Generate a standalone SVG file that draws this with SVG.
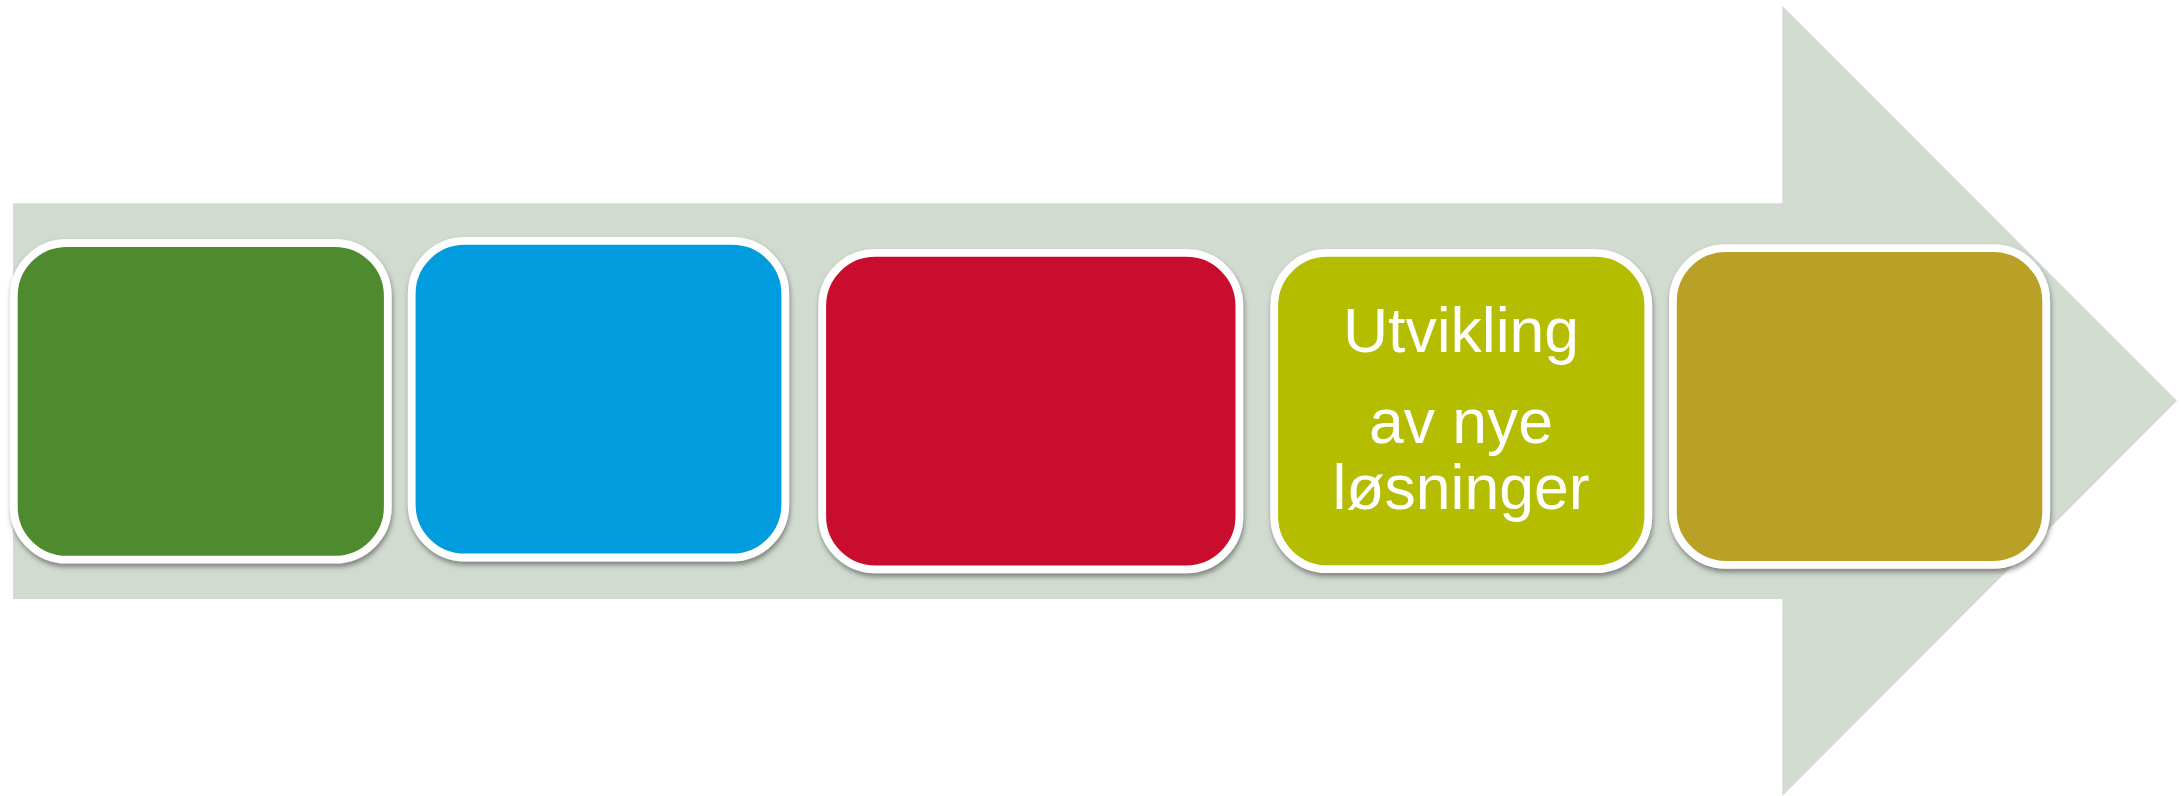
<svg xmlns="http://www.w3.org/2000/svg" width="2181" height="796" viewBox="0 0 2181 796">
  <defs>
    <filter id="shadow" x="-5%" y="-5%" width="110%" height="115%">
      <feDropShadow dx="1" dy="3.5" stdDeviation="2.5" flood-color="#4a4a4a" flood-opacity="0.6"/>
    </filter>
  </defs>
  <style>
    .box { stroke: #ffffff; stroke-width: 7.8; filter: url(#shadow); }
    .label { font-family: "Liberation Sans", Arial, sans-serif; font-size: 62.5px; fill: #ffffff; text-anchor: middle; }
  </style>
  <rect width="2181" height="796" fill="#ffffff"/>
  <g id="arrow">
    <polygon points="13,203.3 1782.3,203.3 1782.3,5.7 2177,400.8 1782.3,796 1782.3,599 13,599" fill="#D1DBD0"/>
  </g>
  <g id="connectors"></g>
  <g id="node1">
    <rect class="box" x="13.8" y="243" width="374" height="316.7" rx="53" ry="53" fill="#4D8B2D"/>
  </g>
  <g id="node2">
    <rect class="box" x="411.7" y="240.9" width="373.6" height="316.6" rx="53" ry="53" fill="#019CDD"/>
  </g>
  <g id="node3">
    <rect class="box" x="822.2" y="252.9" width="417.2" height="316.4" rx="53" ry="53" fill="#C8102E"/>
  </g>
  <g id="node4">
    <rect class="box" x="1274.2" y="252.9" width="374.1" height="316.3" rx="53" ry="53" fill="#B5BD00"/>
    <text class="label" x="1461" y="351.7">Utvikling</text>
    <text class="label" x="1461" y="443.3">av nye</text>
    <text class="label" x="1461" y="509.3">løsninger</text>
  </g>
  <g id="node5">
    <rect class="box" x="1672.9" y="248.2" width="373.3" height="316.6" rx="53" ry="53" fill="#B9A026"/>
  </g>
</svg>
